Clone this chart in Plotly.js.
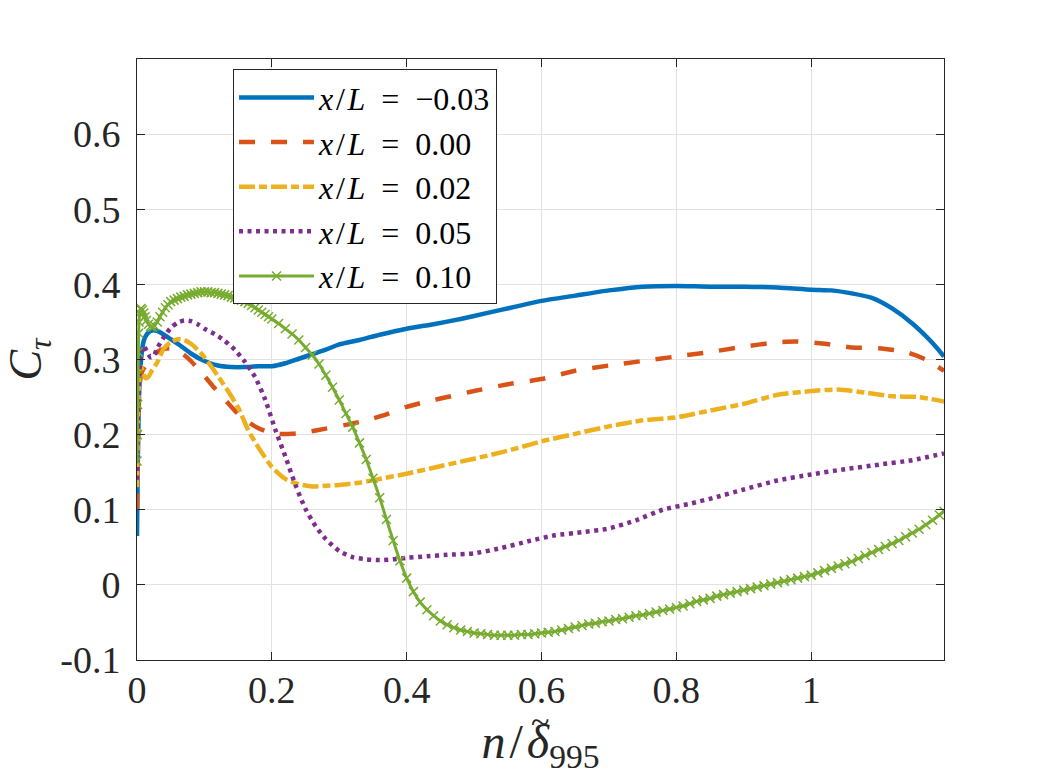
<!DOCTYPE html>
<html>
<head>
<meta charset="utf-8">
<script src="https://cdn.plot.ly/plotly-3.0.1.min.js"></script>
<style>
  html, body { margin: 0; padding: 0; background: #fff; }
  #chart { width: 1044px; height: 783px; }
</style>
</head>
<body>
<div id="chart"></div>
<script>
// C_tau profiles vs n/delta_995 at several x/L stations
const seriesNames = ["−0.03", "0.00", "0.02", "0.05", "0.10"];

const xM003 = [0, 0.001, 0.003, 0.006, 0.01, 0.015, 0.02, 0.025, 0.03, 0.04, 0.05, 0.065, 0.08, 0.1, 0.12, 0.14, 0.16, 0.18, 0.2, 0.22, 0.24, 0.26, 0.28, 0.3, 0.33, 0.36, 0.4, 0.44, 0.48, 0.52, 0.56, 0.6, 0.65, 0.7, 0.75, 0.8, 0.85, 0.9, 0.95, 1.0, 1.03, 1.06, 1.09, 1.12, 1.15, 1.18, 1.197];
const yM003 = [0.065, 0.15, 0.25, 0.30, 0.325, 0.334, 0.338, 0.339, 0.338, 0.333, 0.327, 0.318, 0.308, 0.298, 0.292, 0.29, 0.29, 0.291, 0.291, 0.295, 0.301, 0.307, 0.313, 0.32, 0.326, 0.333, 0.341, 0.347, 0.354, 0.362, 0.37, 0.378, 0.385, 0.392, 0.397, 0.398, 0.397, 0.397, 0.396, 0.393, 0.392, 0.388, 0.382, 0.368, 0.348, 0.322, 0.304];

const x000 = [0, 0.001, 0.003, 0.006, 0.01, 0.015, 0.02, 0.03, 0.04, 0.05, 0.06, 0.07, 0.08, 0.09, 0.1, 0.115, 0.13, 0.145, 0.16, 0.175, 0.19, 0.21, 0.23, 0.25, 0.28, 0.31, 0.34, 0.37, 0.4, 0.43, 0.46, 0.5, 0.55, 0.6, 0.65, 0.7, 0.75, 0.8, 0.85, 0.9, 0.95, 0.98, 1.02, 1.06, 1.1, 1.14, 1.17, 1.197];
const y000 = [0.10, 0.18, 0.25, 0.28, 0.288, 0.295, 0.302, 0.31, 0.314, 0.315, 0.312, 0.306, 0.298, 0.288, 0.278, 0.262, 0.247, 0.232, 0.22, 0.211, 0.205, 0.201, 0.201, 0.203, 0.208, 0.213, 0.219, 0.227, 0.237, 0.244, 0.25, 0.258, 0.267, 0.274, 0.285, 0.292, 0.298, 0.304, 0.31, 0.317, 0.323, 0.324, 0.321, 0.316, 0.315, 0.31, 0.3, 0.285];

const x002 = [0, 0.001, 0.003, 0.006, 0.01, 0.013, 0.017, 0.022, 0.03, 0.04, 0.05, 0.06, 0.07, 0.08, 0.09, 0.1, 0.11, 0.12, 0.135, 0.15, 0.165, 0.18, 0.2, 0.22, 0.24, 0.26, 0.28, 0.3, 0.33, 0.36, 0.4, 0.44, 0.48, 0.52, 0.56, 0.6, 0.65, 0.7, 0.75, 0.8, 0.85, 0.9, 0.95, 1.0, 1.04, 1.08, 1.12, 1.16, 1.197];
const y002 = [0.13, 0.2, 0.27, 0.29, 0.28, 0.275, 0.277, 0.285, 0.296, 0.315, 0.323, 0.327, 0.326, 0.321, 0.313, 0.303, 0.291, 0.278, 0.258, 0.236, 0.206, 0.183, 0.157, 0.141, 0.134, 0.131, 0.132, 0.133, 0.136, 0.141, 0.148, 0.156, 0.164, 0.172, 0.181, 0.191, 0.201, 0.211, 0.219, 0.223, 0.232, 0.241, 0.253, 0.258, 0.26, 0.256, 0.251, 0.25, 0.244];

const x005 = [0, 0.001, 0.003, 0.006, 0.01, 0.015, 0.02, 0.025, 0.03, 0.04, 0.05, 0.06, 0.07, 0.08, 0.09, 0.1, 0.115, 0.13, 0.145, 0.16, 0.175, 0.19, 0.205, 0.22, 0.235, 0.25, 0.265, 0.28, 0.3, 0.32, 0.34, 0.36, 0.38, 0.4, 0.43, 0.46, 0.5, 0.54, 0.58, 0.62, 0.66, 0.7, 0.74, 0.78, 0.82, 0.86, 0.9, 0.95, 1.0, 1.05, 1.1, 1.15, 1.197];
const y005 = [0.14, 0.2, 0.27, 0.31, 0.318, 0.31, 0.303, 0.305, 0.315, 0.33, 0.342, 0.349, 0.352, 0.351, 0.347, 0.341, 0.334, 0.325, 0.313, 0.297, 0.277, 0.247, 0.207, 0.171, 0.133, 0.101, 0.078, 0.061, 0.045, 0.037, 0.034, 0.033, 0.034, 0.036, 0.038, 0.04, 0.042, 0.049, 0.058, 0.066, 0.07, 0.075, 0.086, 0.1, 0.108, 0.117, 0.127, 0.139, 0.147, 0.154, 0.16, 0.166, 0.175];

const x010 = [0, 0.0005, 0.001, 0.0015, 0.002, 0.0025, 0.003, 0.004, 0.005, 0.006, 0.008, 0.01, 0.012, 0.014, 0.017, 0.02, 0.023, 0.026, 0.03, 0.034, 0.038, 0.042, 0.046, 0.05,
  0.055, 0.06, 0.065, 0.07, 0.075, 0.08, 0.085, 0.09, 0.095, 0.10, 0.105, 0.11, 0.115, 0.12, 0.125, 0.13, 0.135, 0.14, 0.145, 0.15, 0.155, 0.16, 0.165, 0.17, 0.175, 0.18, 0.185, 0.19, 0.195,
  0.20, 0.21, 0.22, 0.23, 0.24, 0.25, 0.26, 0.27, 0.28, 0.29,
  0.30, 0.31, 0.32, 0.33, 0.34, 0.35, 0.36, 0.37, 0.38, 0.39, 0.40, 0.41, 0.42, 0.43, 0.44, 0.45, 0.46, 0.47, 0.48, 0.49,
  0.50, 0.51, 0.52, 0.53, 0.54, 0.55, 0.56, 0.57, 0.58, 0.59, 0.60, 0.61, 0.62, 0.63, 0.64, 0.65, 0.66, 0.67, 0.68, 0.69,
  0.70, 0.71, 0.72, 0.73, 0.74, 0.75, 0.76, 0.77, 0.78, 0.79, 0.80, 0.81, 0.82, 0.83, 0.84, 0.85, 0.86, 0.87, 0.88, 0.89,
  0.90, 0.91, 0.92, 0.93, 0.94, 0.95, 0.96, 0.97, 0.98, 0.99, 1.00, 1.01, 1.02, 1.03, 1.04, 1.05, 1.06, 1.07, 1.08, 1.09,
  1.10, 1.11, 1.12, 1.13, 1.14, 1.15, 1.16, 1.17, 1.18, 1.19, 1.197];
const y010 = [0.165, 0.2, 0.24, 0.28, 0.31, 0.335, 0.35, 0.362, 0.367, 0.368, 0.366, 0.362, 0.357, 0.352, 0.347, 0.344, 0.343, 0.345, 0.35, 0.357, 0.363, 0.369, 0.373, 0.377,
  0.379, 0.381, 0.383, 0.384, 0.386, 0.387, 0.388, 0.389, 0.390, 0.390, 0.390, 0.389, 0.389, 0.388, 0.387, 0.386, 0.385, 0.383, 0.382, 0.380, 0.379, 0.377, 0.375, 0.372, 0.369, 0.366, 0.363, 0.360, 0.357,
  0.354, 0.348, 0.341, 0.334, 0.326, 0.316, 0.306, 0.294, 0.279, 0.263,
  0.246, 0.228, 0.210, 0.189, 0.167, 0.142, 0.116, 0.087, 0.059, 0.032, 0.009, -0.009, -0.023, -0.033, -0.041, -0.048, -0.053, -0.057, -0.060, -0.062,
  -0.064, -0.065, -0.066, -0.067, -0.067, -0.067, -0.067, -0.066, -0.066, -0.065, -0.064, -0.063, -0.062, -0.060, -0.058, -0.056, -0.054, -0.052, -0.051, -0.049,
  -0.048, -0.046, -0.045, -0.043, -0.041, -0.040, -0.038, -0.036, -0.034, -0.032, -0.030, -0.028, -0.025, -0.022, -0.020, -0.018, -0.015, -0.013, -0.011, -0.009,
  -0.007, -0.005, -0.003, -0.001, 0.001, 0.003, 0.005, 0.007, 0.009, 0.011, 0.013, 0.016, 0.019, 0.022, 0.025, 0.028, 0.031, 0.035, 0.039, 0.043,
  0.047, 0.051, 0.055, 0.059, 0.064, 0.069, 0.074, 0.080, 0.086, 0.093, 0.098];

const xTicks = [0, 0.2, 0.4, 0.6, 0.8, 1];
const xTickText = ["0", "0.2", "0.4", "0.6", "0.8", "1"];
const yTicks = [-0.1, 0, 0.1, 0.2, 0.3, 0.4, 0.5, 0.6];
const yTickText = ["-0.1", "0", "0.1", "0.2", "0.3", "0.4", "0.5", "0.6"];

const colors = ["#0072BD", "#D95319", "#EDB120", "#7E2F8E", "#77AC30"];
const FONT = "Liberation Serif, DejaVu Serif, serif";
const INK = "#262626";

function label(v) {
  return "<i>x</i>\u200a/\u200a<i>L</i>\u2002=\u2002" + v;
}

const data = [
  {
    x: xM003, y: yM003, name: label(seriesNames[0]),
    type: "scatter", mode: "lines",
    line: { color: colors[0], width: 4.5, shape: "spline", smoothing: 0.6 },
  },
  {
    x: x000, y: y000, name: label(seriesNames[1]),
    type: "scatter", mode: "lines",
    line: { color: colors[1], width: 4.5, dash: "16px,16px", shape: "spline", smoothing: 0.6 },
  },
  {
    x: x002, y: y002, name: label(seriesNames[2]),
    type: "scatter", mode: "lines",
    line: { color: colors[2], width: 4.5, dash: "16px,4px,8px,4px", shape: "spline", smoothing: 0.6 },
  },
  {
    x: x005, y: y005, name: label(seriesNames[3]),
    type: "scatter", mode: "lines",
    line: { color: colors[3], width: 4.5, dash: "4px,4.5px", shape: "spline", smoothing: 0.6 },
  },
  {
    x: x010, y: y010, name: label(seriesNames[4]),
    type: "scatter", mode: "lines+markers",
    line: { color: colors[4], width: 3, shape: "spline", smoothing: 0.6 },
    marker: { symbol: "x-thin-open", size: 9, color: colors[4], line: { color: colors[4], width: 1.5 } },
  },
];

const axisCommon = {
  ticks: "inside",
  ticklen: 8,
  tickwidth: 1,
  tickcolor: INK,
  showline: true,
  linecolor: INK,
  linewidth: 1,
  mirror: "ticks",
  showgrid: true,
  gridcolor: "#e2e2e2",
  gridwidth: 1,
  zeroline: false,
  tickfont: { family: FONT, size: 38, color: INK },
  tickmode: "array",
};

const layout = {
  width: 1044,
  height: 783,
  margin: { l: 137, r: 100, t: 59, b: 123 },
  paper_bgcolor: "#ffffff",
  plot_bgcolor: "#ffffff",
  showlegend: true,
  xaxis: Object.assign({}, axisCommon, {
    range: [0, 1.197],
    tickvals: xTicks,
    ticktext: xTickText,
    ticklabelstandoff: -4,
    title: {
      text: "<i>n</i>\u200a/\u200a<i>δ</i><sub>995</sub>",
      font: { family: FONT, size: 48, color: INK },
      standoff: 14,
    },
  }),
  yaxis: Object.assign({}, axisCommon, {
    range: [-0.1, 0.7],
    tickvals: yTicks,
    ticktext: yTickText,
    ticklabelstandoff: 8,
    title: {
      text: "<i>C</i><sub><i>τ</i></sub>",
      font: { family: FONT, size: 46, color: INK },
      standoff: 14,
    },
  }),
  // tilde accent over the delta of the x title
  annotations: [
    {
      text: "~",
      xref: "paper", yref: "paper",
      x: 0.4994, y: -0.103,
      xanchor: "center", yanchor: "middle",
      showarrow: false,
      font: { family: FONT, size: 34, color: INK },
    },
  ],
  legend: {
    x: 0.119,
    y: 0.983,
    xanchor: "left",
    yanchor: "top",
    bgcolor: "#ffffff",
    bordercolor: INK,
    borderwidth: 1,
    font: { family: FONT, size: 32, color: "#000000" },
    itemwidth: 75,
    tracegroupgap: 0,
  },
};

Plotly.newPlot("chart", data, layout, { staticPlot: true, displayModeBar: false });
</script>
</body>
</html>
